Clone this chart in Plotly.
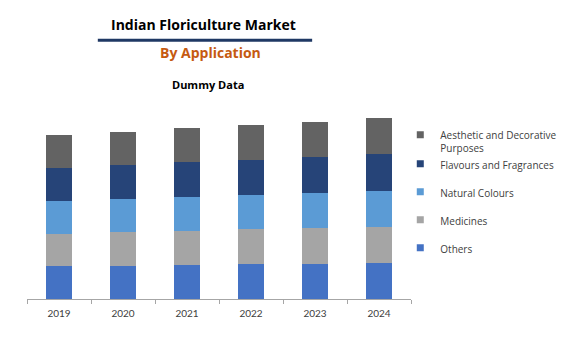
import plotly.graph_objects as go

years = ["2019", "2020", "2021", "2022", "2023", "2024"]
others = [33, 33, 34, 35, 35, 36]
medicines = [32, 34, 34, 35, 36, 36]
natural_colours = [33, 33, 34, 34, 35, 36]
flavours = [33, 34, 35, 35, 36, 37]
aesthetic = [33, 33, 34, 35, 35, 36]

series = [
    ("Others", others, "#4472C4"),
    ("Medicines", medicines, "#A5A5A5"),
    ("Natural Colours", natural_colours, "#5B9BD5"),
    ("Flavours and Fragrances", flavours, "#264478"),
    ("Aesthetic and Decorative<br>Purposes", aesthetic, "#636363"),
]
legend_groups = ["g5", "g4", "g3", "g1", "g1"]

FONT = "Open Sans"
OFF = 8  # page body margin
W, H = 566, 358
# desired on-screen plot area
PL, PR, PT, PB = 27.3, 410.7, 110.3, 299.3
l, r = PL - OFF, W - (PR - OFF)
t, b = PT - OFF, H - (PB - OFF)
pw, ph = W - l - r, H - t - b
def px(xp): return (xp - OFF - l) / pw
def py(yp): return (H - b - (yp - OFF)) / ph

fig = go.Figure()
for name, vals, col in series:
    fig.add_trace(go.Bar(x=years, y=vals, name=name, marker=dict(color=col, line=dict(width=0)),
                         showlegend=False))
for (name, vals, col), grp in reversed(list(zip(series, legend_groups))):
    fig.add_trace(go.Scatter(x=[None], y=[None], mode="markers", name=name, legendgroup=grp,
                             marker=dict(symbol="square", size=7, color=col)))

fig.update_layout(
    width=W, height=H,
    margin=dict(l=l, r=r, t=t, b=b, autoexpand=False, pad=0),
    paper_bgcolor="white", plot_bgcolor="white",
    barmode="stack", bargap=0.594,
    font=dict(family=FONT, color="#404040"),
    xaxis=dict(showgrid=False, showline=True, linecolor="#A6A6A6", linewidth=1,
               ticks="outside", tickson="boundaries", ticklen=4, tickcolor="#A6A6A6",
               ticklabelstandoff=5,
               tickfont=dict(size=10, color="#404040", family="Lato")),
    yaxis=dict(range=[0, 189], visible=False, showgrid=False),
    legend=dict(traceorder="grouped", tracegroupgap=9, valign="top",
                x=px(400), xanchor="left", y=py(122), yanchor="top",
                font=dict(size=10, color="#404040", family=FONT),
                bgcolor="rgba(0,0,0,0)"),
    annotations=[
        dict(text="<b>Indian Floriculture Market</b>", x=px(204), y=py(25), xref="paper", yref="paper",
             showarrow=False, yanchor="middle", font=dict(size=14, color="#000000", family=FONT)),
        dict(text="<b>By Application</b>", x=px(210.5), y=py(53), xref="paper", yref="paper",
             showarrow=False, yanchor="middle", font=dict(size=14, color="#C55A11", family=FONT)),
        dict(text="<b>Dummy Data</b>", x=px(208.5), y=py(85), xref="paper", yref="paper",
             showarrow=False, yanchor="middle", font=dict(size=11, color="#000000", family=FONT)),
    ],
    shapes=[dict(type="line", xref="paper", yref="paper", x0=px(98), x1=px(312),
                 y0=py(40.5), y1=py(40.5), line=dict(color="#1F3864", width=3))],
)

fig.write_html("out.html")
